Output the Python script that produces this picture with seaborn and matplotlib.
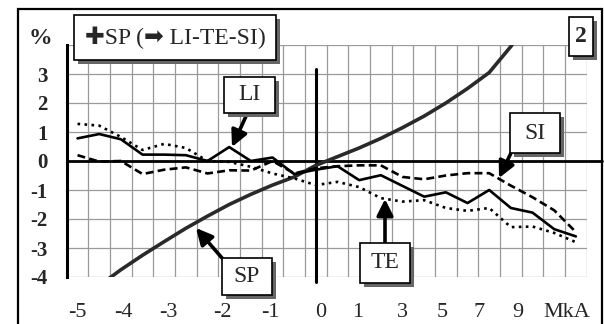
import numpy as np
import seaborn as sns
import matplotlib.pyplot as plt
import matplotlib.patheffects as pe
from matplotlib.patches import Rectangle

# category axis: 24 steps, labelled every ~2 steps
x_labels = ["-5", "-4", "-3", "-2", "-1", "0", "1", "3", "5", "7", "9", "MkA"]
y_labels = ["-4", "-3", "-2", "-1", "0", "1", "2", "3", ""]

# values in % (one per category)
sp = [-4.9, -4.3, -3.75, -3.25, -2.78, -2.32, -1.9, -1.5, -1.15, -0.83, -0.55, -0.15,
      0.15, 0.45, 0.78, 1.15, 1.55, 2.0, 2.5, 3.05, 3.95, 5.0, 6.2, 7.5]
li = [0.78, 0.93, 0.75, 0.22, 0.22, 0.2, 0.0, 0.48, 0.0, 0.12, -0.45, -0.3,
      -0.18, -0.66, -0.49, -0.86, -1.23, -1.08, -1.45, -1.0, -1.62, -1.78, -2.35, -2.6]
te = [1.28, 1.22, 0.83, 0.38, 0.59, 0.45, 0.0, -0.03, -0.2, -0.43, -0.6, -0.83,
      -0.72, -0.9, -1.28, -1.4, -1.35, -1.62, -1.72, -1.62, -2.28, -2.26, -2.48, -2.8]
si = [0.2, -0.02, 0.0, -0.45, -0.3, -0.22, -0.43, -0.32, -0.33, 0.0, -0.43, -0.25,
      -0.18, -0.15, -0.15, -0.55, -0.63, -0.5, -0.42, -0.42, -0.85, -1.25, -1.7, -2.45]

W, H = 604, 324
SERIF = ["Liberation Serif", "DejaVu Sans"]

sns.set_style("white")
plt.rcParams["font.family"] = SERIF

fig = plt.figure(figsize=(W / 100, H / 100), dpi=100)
ax = fig.add_axes([66.7 / W, 1 - 277 / H, 520 / W, 232 / H])

idx = np.arange(len(li))
sns.lineplot(x=idx, y=sp, ax=ax, color="#2a2a2a", lw=2.6, zorder=3)
sns.lineplot(x=idx, y=li, ax=ax, color="black", lw=1.9, zorder=4)
sns.lineplot(x=idx, y=te, ax=ax, color="black", lw=1.9, linestyle=":", zorder=4)
sns.lineplot(x=idx, y=si, ax=ax, color="black", lw=1.9, linestyle=(0, (3, 1.6)), zorder=4)

ax.set_xlim(-0.5, len(li) - 0.5)
ax.set_ylim(-4, 4)
ax.set_xticks(np.arange(-0.5, len(li), 1), minor=True)
ax.set_xticks([0, 2.1, 4.2, 6.7, 8.9, 11.2, 12.95, 15.0, 16.85, 18.55, 20.3, 22.6])
ax.set_xticklabels(x_labels, fontsize=16)
ax.set_yticks(range(-4, 5))
ax.set_yticklabels(y_labels, fontsize=15, fontweight="bold")
ax.tick_params(axis="both", which="both", length=0)
ax.tick_params(axis="x", pad=19)
ax.tick_params(axis="y", pad=14)
ax.grid(which="minor", axis="x", color="#9a9a9a", lw=0.9)
ax.grid(which="major", axis="y", color="#9a9a9a", lw=0.9)
ax.grid(which="major", axis="x", visible=False)
ax.set_axisbelow(True)
ax.set_xlabel("")
ax.set_ylabel("")
for s in ["top", "right", "bottom"]:
    ax.spines[s].set_visible(False)
ax.spines["left"].set_linewidth(2.2)
ax.spines["left"].set_color("black")

# zero reference lines
ax.axhline(0, xmin=0, xmax=(602 - 66.7) / 520, color="black", lw=2.0, clip_on=False, zorder=2)
ax.axvline(11, ymin=-0.02, ymax=0.895, color="black", lw=2.2, clip_on=False, zorder=2)

# outer frame
fig.add_artist(Rectangle((18 / W, -0.02), (602 - 18) / W, 1 - 9 / H + 0.02,
                         transform=fig.transFigure, fill=False, edgecolor="black", lw=1.6))

fig.text(40 / W, 1 - 38 / H, "%", ha="center", va="center", fontsize=17, fontweight="bold")


def box(x0, y0, x1, y1, label, **kw):
    r = Rectangle((x0 / W, 1 - y1 / H), (x1 - x0) / W, (y1 - y0) / H,
                  transform=fig.transFigure, facecolor="white", edgecolor="black",
                  lw=1.2, zorder=5,
                  path_effects=[pe.withSimplePatchShadow(offset=(3, -3), shadow_rgbFace="0.4", alpha=1)])
    fig.add_artist(r)
    fig.text((x0 + x1) / 2 / W, 1 - (y0 + y1) / 2 / H, label, ha="center", va="center",
             zorder=6, **kw)


def arrow(x0, y0, x1, y1):
    ax.annotate("", xy=(x1, H - y1), xycoords="figure pixels",
                xytext=(x0, H - y0), textcoords="figure pixels",
                arrowprops=dict(arrowstyle="-|>,head_length=0.7,head_width=0.35",
                                lw=2.6, color="black", mutation_scale=14,
                                shrinkA=0, shrinkB=0), zorder=6)


box(74, 15, 276, 60, "\u271aSP (\u27a1 LI-TE-SI)", fontsize=17)
box(569, 17, 593, 56, "2", fontsize=17, fontweight="bold")
box(224, 77, 275, 113, "LI", fontsize=17)
box(510, 113, 560, 153, "SI", fontsize=17)
box(222, 258, 272, 295, "SP", fontsize=17)
box(360, 243, 410, 283, "TE", fontsize=17)

arrow(247, 114, 232, 147)
arrow(511, 153, 499, 178)
arrow(222, 258, 196, 228)
arrow(385, 243, 385, 199)

fig.savefig("out.png", dpi=100)
